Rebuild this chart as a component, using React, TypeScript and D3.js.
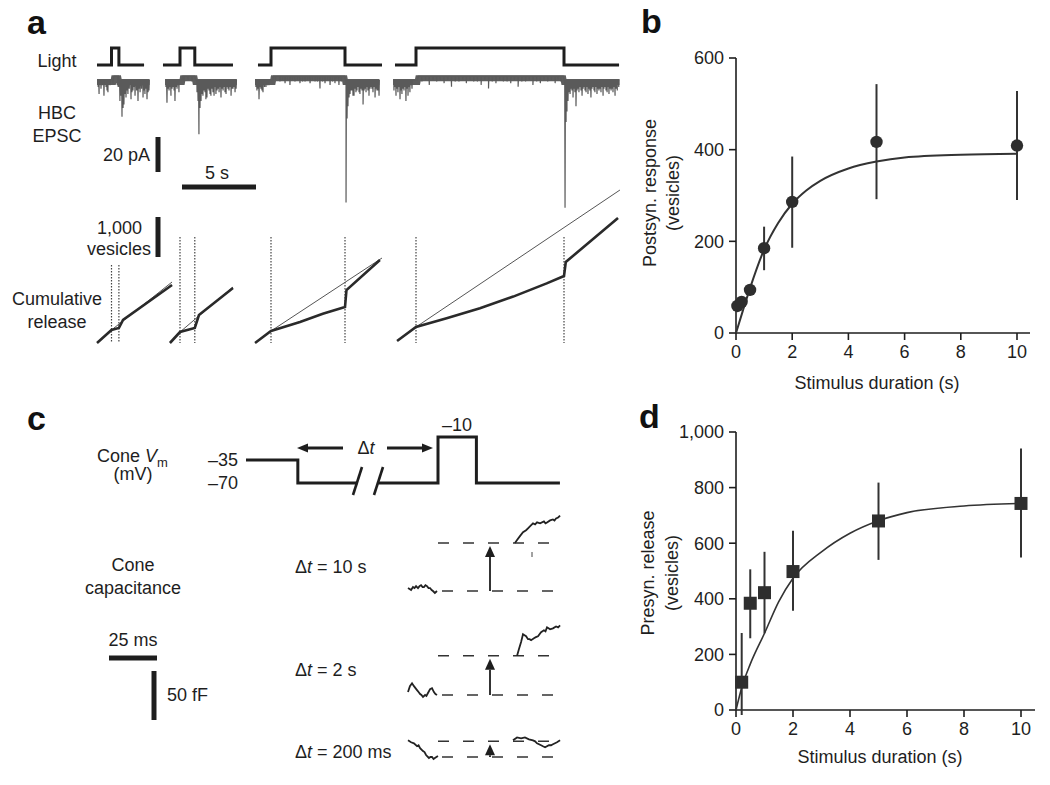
import React from 'react';
import * as d3 from 'd3';

type P = [number, number];

// ================= Panel a data (time in s relative to light onset) =================
const stimDurations = [0.5, 1, 5, 10];
const lightStart = [-0.98, -1.15, -0.88, -1.42];
const lightEnd = [2.2, 3.58, 7.5, 13.72];
const epscStart = [-0.98, -1.01, -1.08, -1.55];
const epscEnd = [2.6, 3.85, 7.36, 13.78];

// EPSC events: [time (s), amplitude (pA, inward)]
const epscSpikes1: P[] = [[-0.9, 4], [-0.84, 8], [-0.71, 5], [-0.62, 3], [-0.51, 9], [-0.37, 4], [-0.3, 6], [-0.24, 7], [-0.1, 3], [0.1, 2], [0.44, 6], [0.5, 4], [0.57, 12], [0.64, 9], [0.71, 21], [0.78, 16], [0.84, 14], [0.91, 8], [0.98, 10], [1.05, 6], [1.11, 8], [1.2, 5], [1.32, 11], [1.38, 7], [1.45, 6], [1.52, 4], [1.59, 9], [1.7, 6], [1.79, 12], [1.86, 5], [1.93, 7], [2.03, 5], [2.13, 10], [2.2, 6], [2.26, 8], [2.33, 5], [2.4, 11], [2.47, 7], [2.53, 6]];
const epscSpikes2: P[] = [[-0.95, 4], [-0.88, 13], [-0.81, 5], [-0.74, 6], [-0.67, 4], [-0.61, 9], [-0.54, 5], [-0.47, 4], [-0.4, 6], [-0.34, 12], [-0.27, 4], [-0.2, 5], [-0.13, 3], [-0.07, 7], [0.27, 3], [0.54, 2], [0.81, 3], [1.15, 7], [1.22, 12], [1.28, 31], [1.35, 16], [1.42, 12], [1.49, 8], [1.55, 9], [1.62, 6], [1.69, 7], [1.75, 11], [1.82, 10], [1.89, 5], [1.96, 6], [2.03, 8], [2.09, 9], [2.16, 5], [2.23, 7], [2.3, 9], [2.36, 4], [2.43, 8], [2.5, 6], [2.57, 5], [2.64, 7], [2.7, 4], [2.77, 10], [2.84, 5], [2.91, 6], [2.98, 4], [3.04, 7], [3.11, 8], [3.18, 4], [3.24, 5], [3.31, 6], [3.38, 4], [3.45, 9], [3.51, 5], [3.58, 5], [3.65, 4], [3.72, 7], [3.79, 5]];
const epscSpikes3: P[] = [[-1.02, 4], [-0.95, 6], [-0.88, 5], [-0.81, 11], [-0.74, 4], [-0.68, 5], [-0.61, 6], [-0.54, 7], [-0.44, 4], [-0.34, 4], [-0.24, 3], [-0.14, 3], [0.3, 2], [0.61, 3], [0.78, 2], [0.95, 4], [1.12, 2], [1.28, 5], [1.45, 2], [1.62, 3], [1.79, 2], [1.96, 4], [2.13, 3], [2.3, 3], [2.47, 2], [2.64, 4], [2.8, 2], [2.97, 3], [3.14, 3], [3.31, 7], [3.48, 3], [3.65, 4], [3.82, 2], [3.99, 5], [4.16, 3], [4.32, 4], [4.46, 2], [4.59, 5], [4.75, 3], [5.07, 70], [5.14, 22], [5.2, 15], [5.27, 10], [5.34, 8], [5.41, 6], [5.47, 6], [5.54, 9], [5.61, 9], [5.68, 5], [5.74, 7], [5.81, 6], [5.88, 4], [5.95, 7], [6.01, 8], [6.08, 5], [6.15, 6], [6.22, 14], [6.29, 6], [6.35, 5], [6.42, 7], [6.49, 4], [6.55, 6], [6.62, 9], [6.69, 5], [6.75, 4], [6.82, 5], [6.89, 7], [6.96, 4], [7.03, 10], [7.09, 5], [7.16, 6], [7.23, 6], [7.3, 9]];
const epscSpikes4: P[] = [[-1.49, 6], [-1.42, 4], [-1.35, 9], [-1.28, 5], [-1.22, 7], [-1.15, 4], [-1.08, 11], [-1.01, 6], [-0.95, 8], [-0.88, 5], [-0.81, 6], [-0.74, 4], [-0.68, 12], [-0.61, 5], [-0.54, 9], [-0.47, 4], [-0.41, 7], [-0.34, 3], [-0.27, 5], [0.4, 3], [0.65, 2], [0.9, 5], [1.15, 2], [1.4, 3], [1.65, 2], [1.9, 4], [2.15, 2], [2.4, 6], [2.65, 3], [2.9, 3], [3.15, 2], [3.4, 4], [3.65, 2], [3.9, 3], [4.15, 3], [4.4, 5], [4.65, 2], [4.9, 7], [5.15, 3], [5.4, 4], [5.65, 2], [5.9, 3], [6.15, 3], [6.4, 4], [6.65, 2], [6.9, 6], [7.15, 3], [7.4, 3], [7.65, 2], [7.9, 5], [8.15, 3], [8.4, 4], [8.65, 2], [8.9, 3], [9.15, 2], [9.4, 4], [9.6, 2], [9.8, 3], [10.07, 73], [10.14, 24], [10.2, 18], [10.27, 12], [10.34, 7], [10.41, 8], [10.47, 5], [10.54, 6], [10.61, 10], [10.68, 5], [10.74, 7], [10.81, 15], [10.88, 6], [10.95, 5], [11.01, 7], [11.08, 4], [11.15, 6], [11.22, 9], [11.29, 5], [11.35, 4], [11.42, 6], [11.49, 7], [11.55, 4], [11.62, 8], [11.69, 5], [11.75, 6], [11.82, 10], [11.89, 5], [11.96, 4], [12.03, 6], [12.09, 7], [12.16, 4], [12.23, 8], [12.3, 5], [12.36, 6], [12.43, 5], [12.5, 7], [12.57, 4], [12.64, 9], [12.7, 5], [12.77, 4], [12.84, 6], [12.91, 7], [12.97, 4], [13.04, 8], [13.11, 5], [13.18, 6], [13.24, 5], [13.31, 7], [13.38, 4], [13.45, 9], [13.52, 5], [13.6, 6], [13.7, 4]];
const epscSpikes = [epscSpikes1, epscSpikes2, epscSpikes3, epscSpikes4];

// Cumulative release: [time (s), vesicles]
const cum1: P[] = [[-0.98, 0], [0, 325], [0.5, 375], [0.78, 575], [4.09, 1450]];
const cum2: P[] = [[-0.68, 0], [0, 275], [1.0, 375], [1.28, 700], [3.58, 1375]];
const cum3: P[] = [[-1.08, 0], [0, 300], [1.96, 525], [3.5, 730], [5.0, 900], [5.1, 1325], [7.36, 2075]];
const cum4: P[] = [[-1.28, 50], [0, 400], [2.07, 620], [4.32, 870], [6.57, 1160], [8.83, 1490], [10.0, 1675], [10.12, 2025], [13.65, 3125]];
const cumRelease = [cum1, cum2, cum3, cum4];
const cumBaseline1: P[] = [[0, 325], [4.09, 1525]];
const cumBaseline2: P[] = [[0, 275], [3.58, 1400]];
const cumBaseline3: P[] = [[0, 300], [7.5, 2125]];
const cumBaseline4: P[] = [[0, 400], [13.78, 3825]];
const cumBaselines = [cumBaseline1, cumBaseline2, cumBaseline3, cumBaseline4];

// ================= Panel b data =================
const bDuration = [0.05, 0.2, 0.5, 1, 2, 5, 10];
const bMean = [59, 68, 94, 185, 286, 417, 409];
const bLow = [52, 60, 82, 137, 186, 292, 290];
const bHigh = [66, 76, 104, 232, 385, 543, 528];
const bFitT = [0, 0.25, 0.5, 1, 1.5, 2, 2.5, 3, 4, 5, 6, 8, 10];
const bFitV = [0, 50, 98, 182, 240, 282, 311, 332, 359, 374, 383, 389, 391];
const bXTicks = [0, 2, 4, 6, 8, 10];
const bYTicks = [0, 200, 400, 600];

// ================= Panel d data =================
const dDuration = [0.2, 0.5, 1, 2, 5, 10];
const dMean = [100, 384, 422, 498, 680, 743];
const dLow = [-18, 258, 276, 357, 540, 549];
const dHigh = [277, 506, 569, 645, 818, 941];
const dFitT = [0, 0.2, 0.5, 1, 1.5, 2, 3, 4, 5, 6, 8, 10];
const dFitV = [0, 80, 165, 276, 390, 474, 569, 636, 681, 710, 734, 743];
const dXTicks = [0, 2, 4, 6, 8, 10];
const dYTicks = [0, 200, 400, 600, 800, 1000];

// ================= Panel c data =================
const vmLeft: P[] = [[0, -35], [27, -35], [27, -70], [58, -70]]; // ms, mV
const vmRight: P[] = [[69, -70], [100, -70], [100, -10], [120, -10], [120, -70], [163.5, -70]];
const capLabels = ['10 s', '2 s', '200 ms'];
const capJump = [49, 40, 16]; // fF
const capPre1: P[] = [[0, 3], [0.8, 2], [1.6, 1], [2.6, 4], [3.4, 3], [4.2, 5], [5.2, 3], [6.0, 5], [6.8, 6], [7.6, 4], [8.3, 4], [9.1, 6], [9.9, 5], [10.7, 3], [11.5, 3], [12.3, 1], [13, 0], [14, -2], [15.1, 0]];
const capPost1: P[] = [[55.7, 49], [56.8, 52], [58.3, 56], [59.9, 60], [61.5, 62], [62.5, 64], [63.5, 66], [65.1, 69], [66.2, 68], [67.2, 70], [68.8, 69], [70.8, 71], [71.6, 69], [72.4, 70], [74, 72], [75.5, 73], [76.3, 72], [77.1, 74], [78.2, 75], [79.2, 77]];
const capPre2: P[] = [[0, 3], [1, 9], [2.1, 12], [3.1, 9], [4.7, 5], [5.5, 3], [6.3, 1], [7.0, 0], [7.8, -2], [8.9, 0], [9.6, -1], [10.4, 2], [11.5, 6], [12.5, 7], [13.5, 3], [14.3, 1], [15.1, 0]];
const capPost2: P[] = [[56.8, 40], [57.8, 47], [58.9, 54], [59.9, 62], [60.7, 61], [61.5, 60], [62.5, 57], [63.3, 57], [64.1, 56], [65.6, 58], [66.6, 59], [67.7, 60], [69.3, 64], [70.8, 66], [71.6, 65], [72.4, 69], [73.2, 68], [74, 67], [75.5, 68], [77.1, 70], [78.2, 69], [79.2, 71]];
const capPre3: P[] = [[0, 17], [1.6, 15], [3.1, 14], [4.7, 11], [5.5, 12], [6.3, 9], [7.8, 6], [8.6, 5], [9.4, 2], [10.9, -1], [11.7, 0], [12.5, 0], [13.3, -2], [14, -1], [15.6, 1]];
const capPost3: P[] = [[54.7, 17], [56.8, 20], [58.9, 19], [60.9, 20], [63, 18], [65.1, 17], [66.2, 16], [67.2, 14], [69.3, 12], [70.3, 11], [71.4, 10], [73.4, 12], [74.5, 12], [75.5, 13], [77.6, 15], [79.2, 17]];
const capPre = [capPre1, capPre2, capPre3];
const capPost = [capPost1, capPost2, capPost3];

// ================= Layout =================
const FONT = "'Liberation Sans', Arial, Helvetica, sans-serif";
const LETTER_STYLE = { fontFamily: "'Liberation Sans', Arial, sans-serif", fontWeight: 700, fontSize: 34, fill: '#111' } as const;
const INK = '#1e1e1e';
const PX_PER_S = 14.8;
const onsetX = [111.5, 180, 271, 416];
const dottedTop = [265, 237, 237, 237];

const lightY = d3.scaleLinear().domain([0, 1]).range([65, 48]);
const epscY = d3.scaleLinear().domain([0, -20]).range([80, 115]);
const cumY = d3.scaleLinear().domain([0, 1000]).range([343, 303]);
const tScale = (i: number) => d3.scaleLinear().domain([0, 1]).range([onsetX[i], onsetX[i] + PX_PER_S]);

const bx = d3.scaleLinear().domain([0, 10]).range([736, 1017]);
const by = d3.scaleLinear().domain([0, 600]).range([333, 58]);
const dx = d3.scaleLinear().domain([0, 10]).range([736, 1021]);
const dy = d3.scaleLinear().domain([0, 1000]).range([710, 432]);

const vmX = d3.scaleLinear().domain([0, 1]).range([246, 247.92]);
const vmY = d3.scaleLinear().domain([-70, -35, -10]).range([483, 460, 437]);
const capX = d3.scaleLinear().domain([0, 1]).range([408, 409.92]);
const capBaseY = [591, 695, 757];

function lightPath(i: number) {
  const x = tScale(i);
  const dur = stimDurations[i];
  const pts: P[] = [[lightStart[i], 0], [0, 0], [0, 1], [dur, 1], [dur, 0], [lightEnd[i], 0]];
  return d3.line<P>().x(p => x(p[0])).y(p => lightY(p[1]))(pts) || '';
}

function baseLevel(t: number, dur: number) {
  return t > 0.15 && t < dur ? 2.2 : 0;
}

function epscPaths(i: number) {
  const x = tScale(i);
  const dur = stimDurations[i];
  const base: P[] = [];
  for (let t = epscStart[i]; t <= epscEnd[i] + 1e-9; t += 0.05) base.push([t, baseLevel(t, dur)]);
  const pts: P[] = [...base];
  epscSpikes[i].forEach(([t, a]) => {
    const b = baseLevel(t, dur);
    pts.push([t - 0.025, b], [t, b - a], [t + 0.025, b]);
  });
  pts.sort((p, q) => p[0] - q[0]);
  const ln = d3.line<P>().x(p => x(p[0])).y(p => epscY(p[1]));
  const band = d3.line<P>().x(p => x(p[0])).y(p => epscY(p[1] - 1.2));
  return { band: band(base) || '', trace: ln(pts) || '' };
}

function cumPath(i: number, pts: P[]) {
  const x = tScale(i);
  return d3.line<P>().x(p => x(p[0])).y(p => cumY(p[1]))(pts) || '';
}

const txt = { fontFamily: FONT, fill: INK } as const;

function Arrow({ x1, y1, x2, y2, head = 10, w = 9, sw = 2.4 }: { x1: number; y1: number; x2: number; y2: number; head?: number; w?: number; sw?: number }) {
  const ang = Math.atan2(y2 - y1, x2 - x1);
  const bxp = x2 - head * Math.cos(ang);
  const byp = y2 - head * Math.sin(ang);
  const nx = -Math.sin(ang) * w / 2;
  const ny = Math.cos(ang) * w / 2;
  return (
    <g>
      <line x1={x1} y1={y1} x2={bxp} y2={byp} stroke={INK} strokeWidth={sw} />
      <polygon points={`${x2},${y2} ${bxp + nx},${byp + ny} ${bxp - nx},${byp - ny}`} fill={INK} />
    </g>
  );
}

function PanelA() {
  return (
    <g>
      <text x={27} y={34} style={LETTER_STYLE}>a</text>
      <text x={57} y={67} textAnchor="middle" fontSize={18} style={txt}>Light</text>
      <text x={57} y={119} textAnchor="middle" fontSize={18} style={txt}>HBC</text>
      <text x={57} y={142} textAnchor="middle" fontSize={18} style={txt}>EPSC</text>
      <text x={150} y={161} textAnchor="end" fontSize={18} style={txt}>20 pA</text>
      <line x1={158} x2={158} y1={epscY(0) + 57} y2={epscY(-20) + 57} stroke={INK} strokeWidth={5} />
      <text x={217} y={179} textAnchor="middle" fontSize={18} style={txt}>5 s</text>
      <line x1={182} x2={182 + 5 * PX_PER_S} y1={187} y2={187} stroke={INK} strokeWidth={5} />
      <text x={142} y={234} textAnchor="end" fontSize={18} style={txt}>1,000</text>
      <text x={151} y={255} textAnchor="end" fontSize={18} style={txt}>vesicles</text>
      <line x1={158} x2={158} y1={cumY(0) - 86} y2={cumY(1000) - 86} stroke={INK} strokeWidth={5} />
      <text x={57} y={305} textAnchor="middle" fontSize={18} style={txt}>Cumulative</text>
      <text x={57} y={328} textAnchor="middle" fontSize={18} style={txt}>release</text>
      {stimDurations.map((dur, i) => {
        const x = tScale(i);
        const e = epscPaths(i);
        return (
          <g key={i}>
            <path d={lightPath(i)} fill="none" stroke={INK} strokeWidth={3} />
            <path d={e.band} fill="none" stroke="#5e5e5e" strokeWidth={6} />
            <path d={e.trace} fill="none" stroke="#5a5a5a" strokeWidth={1.2} />
            {[0, dur].map((t, k) => (
              <line key={k} x1={x(t)} x2={x(t)} y1={dottedTop[i]} y2={cumY(0)} stroke="#444" strokeWidth={1.2} strokeDasharray="1.5 1.5" />
            ))}
            <path d={cumPath(i, cumBaselines[i])} fill="none" stroke="#555" strokeWidth={1} />
            <path d={cumPath(i, cumRelease[i])} fill="none" stroke="#2a2a2a" strokeWidth={2.6} />
          </g>
        );
      })}
    </g>
  );
}

function PanelB() {
  const fit = d3.line<number>().x((_, k) => bx(bFitT[k])).y(v => by(v)).curve(d3.curveMonotoneX)(bFitV) || '';
  return (
    <g>
      <text x={641} y={33} style={LETTER_STYLE}>b</text>
      <line x1={bx(0)} x2={bx(0)} y1={by(600)} y2={by(0)} stroke={INK} strokeWidth={1.6} />
      <line x1={bx(0)} x2={1030} y1={by(0)} y2={by(0)} stroke={INK} strokeWidth={1.6} />
      {bYTicks.map(v => (
        <g key={v}>
          <line x1={bx(0) - 7} x2={bx(0)} y1={by(v)} y2={by(v)} stroke={INK} strokeWidth={1.6} />
          <text x={724} y={by(v)} dy="0.35em" textAnchor="end" fontSize={18} style={txt}>{d3.format(',')(v)}</text>
        </g>
      ))}
      {bXTicks.map(v => (
        <g key={v}>
          <line x1={bx(v)} x2={bx(v)} y1={by(0)} y2={by(0) + 7} stroke={INK} strokeWidth={1.6} />
          <text x={bx(v)} y={358} textAnchor="middle" fontSize={18} style={txt}>{v}</text>
        </g>
      ))}
      <text x={877} y={389} textAnchor="middle" fontSize={18} style={txt}>Stimulus duration (s)</text>
      <text transform="translate(656,193) rotate(-90)" textAnchor="middle" fontSize={18} style={txt}>Postsyn. response</text>
      <text transform="translate(679,193) rotate(-90)" textAnchor="middle" fontSize={18} style={txt}>(vesicles)</text>
      <path d={fit} fill="none" stroke="#333" strokeWidth={2} />
      {bDuration.map((t, k) => (
        <line key={'e' + k} x1={bx(t)} x2={bx(t)} y1={by(bLow[k])} y2={by(bHigh[k])} stroke="#333" strokeWidth={2} />
      ))}
      {bDuration.map((t, k) => (
        <circle key={'c' + k} cx={bx(t)} cy={by(bMean[k])} r={6.2} fill="#2e2e2e" />
      ))}
    </g>
  );
}

function PanelD() {
  const fit = d3.line<number>().x((_, k) => dx(dFitT[k])).y(v => dy(v)).curve(d3.curveMonotoneX)(dFitV) || '';
  return (
    <g>
      <text x={639} y={428} style={LETTER_STYLE}>d</text>
      <line x1={dx(0)} x2={dx(0)} y1={dy(1000)} y2={dy(0)} stroke={INK} strokeWidth={1.6} />
      <line x1={dx(0)} x2={1035} y1={dy(0)} y2={dy(0)} stroke={INK} strokeWidth={1.6} />
      {dYTicks.map(v => (
        <g key={v}>
          <line x1={dx(0) - 7} x2={dx(0)} y1={dy(v)} y2={dy(v)} stroke={INK} strokeWidth={1.6} />
          <text x={724} y={dy(v)} dy="0.35em" textAnchor="end" fontSize={18} style={txt}>{d3.format(',')(v)}</text>
        </g>
      ))}
      {dXTicks.map(v => (
        <g key={v}>
          <line x1={dx(v)} x2={dx(v)} y1={dy(0)} y2={dy(0) + 7} stroke={INK} strokeWidth={1.6} />
          <text x={dx(v)} y={735} textAnchor="middle" fontSize={18} style={txt}>{v}</text>
        </g>
      ))}
      <text x={880} y={763} textAnchor="middle" fontSize={18} style={txt}>Stimulus duration (s)</text>
      <text transform="translate(654,573) rotate(-90)" textAnchor="middle" fontSize={18} style={txt}>Presyn. release</text>
      <text transform="translate(678,573) rotate(-90)" textAnchor="middle" fontSize={18} style={txt}>(vesicles)</text>
      <path d={fit} fill="none" stroke="#333" strokeWidth={1.6} />
      {dDuration.map((t, k) => (
        <line key={'e' + k} x1={dx(t)} x2={dx(t)} y1={dy(dLow[k])} y2={dy(dHigh[k])} stroke="#333" strokeWidth={2} />
      ))}
      {dDuration.map((t, k) => (
        <rect key={'s' + k} x={dx(t) - 6.5} y={dy(dMean[k]) - 6.5} width={13} height={13} fill="#2e2e2e" />
      ))}
    </g>
  );
}

function DeltaT({ x, y, rest, anchor = 'start' }: { x: number; y: number; rest: string; anchor?: string }) {
  return (
    <text x={x} y={y} textAnchor={anchor as any} fontSize={18} style={txt}>
      Δ<tspan fontStyle="italic">t</tspan>{rest}
    </text>
  );
}

function PanelC() {
  const vmLine = d3.line<P>().x(p => vmX(p[0])).y(p => vmY(p[1]));
  return (
    <g>
      <text x={27} y={430} style={LETTER_STYLE}>c</text>
      <text x={97} y={462} fontSize={18} style={txt}>
        Cone <tspan fontStyle="italic">V</tspan><tspan fontSize={13} dy={5}>m</tspan>
      </text>
      <text x={133} y={480} textAnchor="middle" fontSize={18} style={txt}>(mV)</text>
      <text x={238} y={466} textAnchor="end" fontSize={18} style={txt}>–35</text>
      <text x={238} y={489} textAnchor="end" fontSize={18} style={txt}>–70</text>
      <text x={457} y={431} textAnchor="middle" fontSize={18} style={txt}>–10</text>
      <path d={vmLine(vmLeft) || ''} fill="none" stroke={INK} strokeWidth={3} />
      <path d={vmLine(vmRight) || ''} fill="none" stroke={INK} strokeWidth={3} />
      <line x1={353} y1={495} x2={362} y2={467} stroke={INK} strokeWidth={2.6} />
      <line x1={374} y1={495} x2={383} y2={467} stroke={INK} strokeWidth={2.6} />
      <Arrow x1={343} y1={448} x2={297} y2={448} head={11} w={9} sw={3} />
      <Arrow x1={387} y1={448} x2={433} y2={448} head={11} w={9} sw={3} />
      <DeltaT x={366} y={454} rest="" anchor="middle" />

      <text x={133} y={571} textAnchor="middle" fontSize={18} style={txt}>Cone</text>
      <text x={133} y={594} textAnchor="middle" fontSize={18} style={txt}>capacitance</text>
      <text x={133} y={646} textAnchor="middle" fontSize={18} style={txt}>25 ms</text>
      <line x1={capX(0) - 299} x2={capX(25) - 299} y1={658} y2={658} stroke={INK} strokeWidth={5} />
      <line x1={154} x2={154} y1={671} y2={671 + 49} stroke={INK} strokeWidth={5} />
      <text x={167} y={701} fontSize={18} style={txt}>50 fF</text>

      {capLabels.map((lab, r) => {
        const base = capBaseY[r];
        const cy = (v: number) => base - v * 0.98;
        const ln = d3.line<P>().x(p => capX(p[0])).y(p => cy(p[1]));
        const labelY = [573, 676, 758][r];
        return (
          <g key={r}>
            <DeltaT x={295} y={labelY} rest={` = ${lab}`} />
            <line x1={438} x2={556} y1={cy(capJump[r])} y2={cy(capJump[r])} stroke="#333" strokeWidth={1.6} strokeDasharray="11 14" />
            <line x1={442} x2={558} y1={cy(0)} y2={cy(0)} stroke="#333" strokeWidth={1.6} strokeDasharray="11 14" />
            <Arrow x1={490} y1={cy(0)} x2={490} y2={cy(capJump[r]) + 3} head={11} w={10} sw={1.8} />
            <path d={ln(capPre[r]) || ''} fill="none" stroke="#222" strokeWidth={1.8} />
            <path d={ln(capPost[r]) || ''} fill="none" stroke="#222" strokeWidth={1.8} />
            {r === 0 && <line x1={532} x2={532} y1={552} y2={557} stroke="#444" strokeWidth={1} />}
          </g>
        );
      })}
    </g>
  );
}

export default function App() {
  return (
    <svg width={1050} height={785} viewBox="0 0 1050 785" style={{ position: 'absolute', left: 0, top: 0, background: '#fff', display: 'block' }}>
      <rect x={0} y={0} width={1050} height={785} fill="#fff" />
      <PanelA />
      <PanelB />
      <PanelC />
      <PanelD />
    </svg>
  );
}
